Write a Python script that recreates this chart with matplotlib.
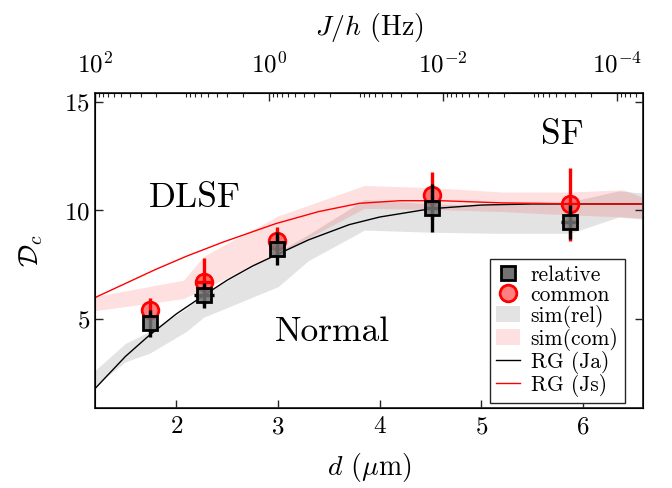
import matplotlib
matplotlib.use('Agg')
import matplotlib.pyplot as plt
from matplotlib.patches import Patch
from matplotlib.lines import Line2D

plt.rcParams.update({
    'font.family': 'cmr10',
    'mathtext.fontset': 'cm',
    'axes.formatter.use_mathtext': True,
    'axes.unicode_minus': False,
})

# ---- data ----
d_exp = [1.74, 2.27, 2.99, 4.51, 5.87]
rel_val = [4.83, 6.11, 8.24, 10.13, 9.48]
rel_err = [0.62, 0.57, 0.76, 1.1, 0.79]
rel_xerr = [0.0, 0.1, 0.0, 0.07, 0.085]
com_val = [5.42, 6.73, 8.58, 10.71, 10.28]
com_err = [0.55, 1.08, 0.66, 1.08, 1.68]
com_xerr = [0.0, 0.09, 0.0, 0.0, 0.0]

d_simrel = [1.2, 1.5, 1.74, 2.1, 2.27, 3.0, 3.3, 3.85, 4.52, 5.2, 5.87, 6.35, 6.59]
simrel_lo = [1.95, 3.05, 3.45, 4.45, 5.1, 6.5, 7.7, 9.1, 9.0, 8.95, 8.95, 9.7, 9.6]
simrel_hi = [2.65, 3.9, 4.45, 5.5, 6.15, 8.1, 8.9, 10.5, 10.3, 10.25, 10.4, 10.9, 10.8]

d_simcom = [1.2, 2.07, 2.27, 3.0, 3.85, 4.52, 5.2, 5.87, 6.4, 6.59]
simcom_lo = [5.4, 5.95, 6.4, 8.0, 10.1, 10.05, 9.95, 9.8, 9.7, 9.65]
simcom_hi = [6.05, 6.8, 7.9, 9.75, 11.15, 11.05, 10.85, 10.85, 10.95, 10.6]

d_rg = [1.2, 1.5, 1.73, 2.0, 2.27, 2.5, 2.75, 3.0, 3.3, 3.7, 4.0, 4.5, 5.0, 5.5, 6.0, 6.59]
rg_ja = [1.82, 3.3, 4.25, 5.25, 6.1, 6.8, 7.45, 8.0, 8.65, 9.35, 9.7, 10.08, 10.25, 10.3, 10.3, 10.3]
d_rgs = [1.2, 1.5, 1.8, 2.1, 2.46, 2.98, 3.4, 3.8, 4.2, 4.6, 5.2, 6.0, 6.59]
rg_js = [6.0, 6.65, 7.3, 7.9, 8.55, 9.4, 9.95, 10.33, 10.45, 10.45, 10.35, 10.3, 10.3]

y_ticks = [5, 10, 15]
x_ticks = [2, 3, 4, 5, 6]
top_ticks = [1e2, 1e0, 1e-2, 1e-4]

# ---- figure ----
fig = plt.figure(figsize=(6.72, 4.88), dpi=100)
ax = fig.add_axes([0.1414, 0.1645, 0.8155, 0.6455])
ax.set_xlim(1.2, 6.59)
ax.set_ylim(0.94, 15.41)

ax.fill_between(d_simrel, simrel_lo, simrel_hi, color='0.5', alpha=0.22, lw=0, zorder=1)
ax.fill_between(d_simcom, simcom_lo, simcom_hi, color='red', alpha=0.12, lw=0, zorder=1)
ax.plot(d_rg, rg_ja, color='k', lw=1.0, zorder=2)
ax.plot(d_rgs, rg_js, color='r', lw=1.0, zorder=2)

ax.errorbar(d_exp, com_val, yerr=com_err, xerr=com_xerr, fmt='o', ms=12,
            mfc=(1, 0, 0, 0.5), mec='r', mew=2, ecolor='r', elinewidth=2.4,
            capsize=0, zorder=3)
ax.errorbar(d_exp, rel_val, yerr=rel_err, xerr=rel_xerr, fmt='s', ms=9.5,
            mfc=(0.45, 0.45, 0.45, 0.85), mec='k', mew=2, ecolor='k',
            elinewidth=2.4, capsize=0, zorder=4)

ax.text(2.18, 10.57, 'DLSF', fontsize=25.5, ha='center', va='center')
ax.text(3.54, 4.42, 'Normal', fontsize=25.5, ha='center', va='center')
ax.text(5.80, 13.47, 'SF', fontsize=25.5, ha='center', va='center')

ax.set_xticks(x_ticks)
ax.set_yticks(y_ticks)
ax.tick_params(direction='in', length=6, width=1, labelsize=18, top=True, right=True,
               colors='#262626', labelcolor='k')
ax.tick_params(axis='x', pad=6)
for s in ax.spines.values():
    s.set_color('#262626')
    s.set_linewidth(1.3)
ax.set_xlabel(r'$d$ ($\mu$m)', fontsize=20, labelpad=9)
ax.set_ylabel(r'$\mathcal{D}_c$', fontsize=20, labelpad=14)

ax2 = ax.twiny()
ax2.set_xscale('log')
ax2.set_xlim(1e2, 10 ** (-4.30))
ax2.set_xticks(top_ticks)
ax2.tick_params(which='major', direction='in', length=6, width=1, labelsize=18,
                colors='#262626', labelcolor='k', pad=11)
ax2.tick_params(which='minor', direction='in', length=3, width=0.8, colors='#262626')
ax2.set_xlabel(r'$J/h$ (Hz)', fontsize=20, labelpad=12)

handles = [
    Line2D([], [], ls='none', marker='s', ms=9.5, mfc=(0.45, 0.45, 0.45), mec='k', mew=2),
    Line2D([], [], ls='none', marker='o', ms=12, mfc=(1, 0.5, 0.5), mec='r', mew=2),
    Patch(facecolor='0.5', alpha=0.22, lw=0),
    Patch(facecolor='red', alpha=0.12, lw=0),
    Line2D([], [], color='k', lw=1.0),
    Line2D([], [], color='r', lw=1.0),
]
labels = ['relative', 'common', 'sim(rel)', 'sim(com)', 'RG (Ja)', 'RG (Js)']
leg = ax.legend(handles, labels, loc='lower right', bbox_to_anchor=(0.967, 0.015),
                borderaxespad=0, fontsize=15.5, frameon=True, fancybox=False,
                edgecolor='#262626', framealpha=1, labelspacing=0.0,
                handlelength=1.1, handletextpad=0.5, borderpad=0.3)
leg.get_frame().set_linewidth(1.0)
leg.set_zorder(10)

fig.savefig('out.png', dpi=100)
